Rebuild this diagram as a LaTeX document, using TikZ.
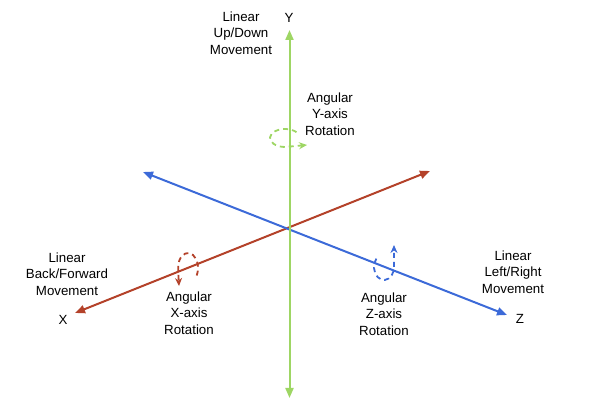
\documentclass[tikz,border=0pt]{standalone}
\usepackage{fontspec}
\setmainfont{Liberation Sans}
\usepackage{xcolor}
\usepackage{tikz}
\usetikzlibrary{arrows.meta, calc, positioning}

\definecolor{axisgreen}{RGB}{158,214,100}
\definecolor{axisred}{RGB}{180,66,42}
\definecolor{axisblue}{RGB}{60,106,216}

\begin{document}
\begin{tikzpicture}[x=1pt, y=1pt, >={Triangle[length=10pt, width=8pt]},
    axisline/.style={line width=2pt, <->},
    turnline/.style={line width=1.8pt, dash pattern=on 5pt off 4pt, ->, >={Stealth[length=8pt, width=7pt]}},
    lbl/.style={align=center, font=\fontsize{13.3}{16.5}\selectfont, inner sep=0pt}]
    \useasboundingbox (0,0) rectangle (610,403);

    % 1. Các điểm đầu mút của ba trục
    \coordinate (O) at (289.5,175);
    \coordinate (ytop) at (289.5,373);
    \coordinate (ybot) at (289.5,5);
    \coordinate (xend) at (75,90);
    \coordinate (xfar) at (430,232);
    \coordinate (zfar) at (143,231);
    \coordinate (zend) at (507,88);

    % 2. Ba trục tọa độ
    \draw[axisline, axisred] (xend) -- (xfar);
    \draw[axisline, axisblue] (zfar) -- (zend);
    \draw[axisline, axisgreen] (ybot) -- (ytop);

    % 3. Nhãn các trục
    \node[lbl] (ylab) at (289,385) {Y};
    \node[lbl] (xlab) at (63,83) {X};
    \node[lbl] (zlab) at (520,84) {Z};

    % 4. Chuyển động tịnh tiến
    \node[lbl] (ymove) at (241,370) {Linear\\Up/Down\\Movement};
    \node[lbl] (xmove) at (67,129) {Linear\\Back/Forward\\Movement};
    \node[lbl] (zmove) at (513,131) {Linear\\Left/Right\\Movement};

    % 5. Chuyển động quay (nét đứt)
    \draw[turnline, axisgreen] ($(285,265)+(40:15 and 9)$)
        arc[start angle=40, end angle=270, x radius=15, y radius=9] -- (307,258);
    \draw[turnline, axisred] ($(188,135)+(-30:10 and 15)$)
        arc[start angle=-30, end angle=190, x radius=10, y radius=15] -- (179,117);
    \draw[turnline, axisblue] ($(384,136)+(140:10 and 13)$)
        arc[start angle=140, end angle=360, x radius=10, y radius=13] -- (394,158);

    \node[lbl] (yturn) at (330,289) {Angular\\Y-axis\\Rotation};
    \node[lbl] (xturn) at (189,90) {Angular\\X-axis\\Rotation};
    \node[lbl] (zturn) at (384,89) {Angular\\Z-axis\\Rotation};
\end{tikzpicture}
\end{document}
